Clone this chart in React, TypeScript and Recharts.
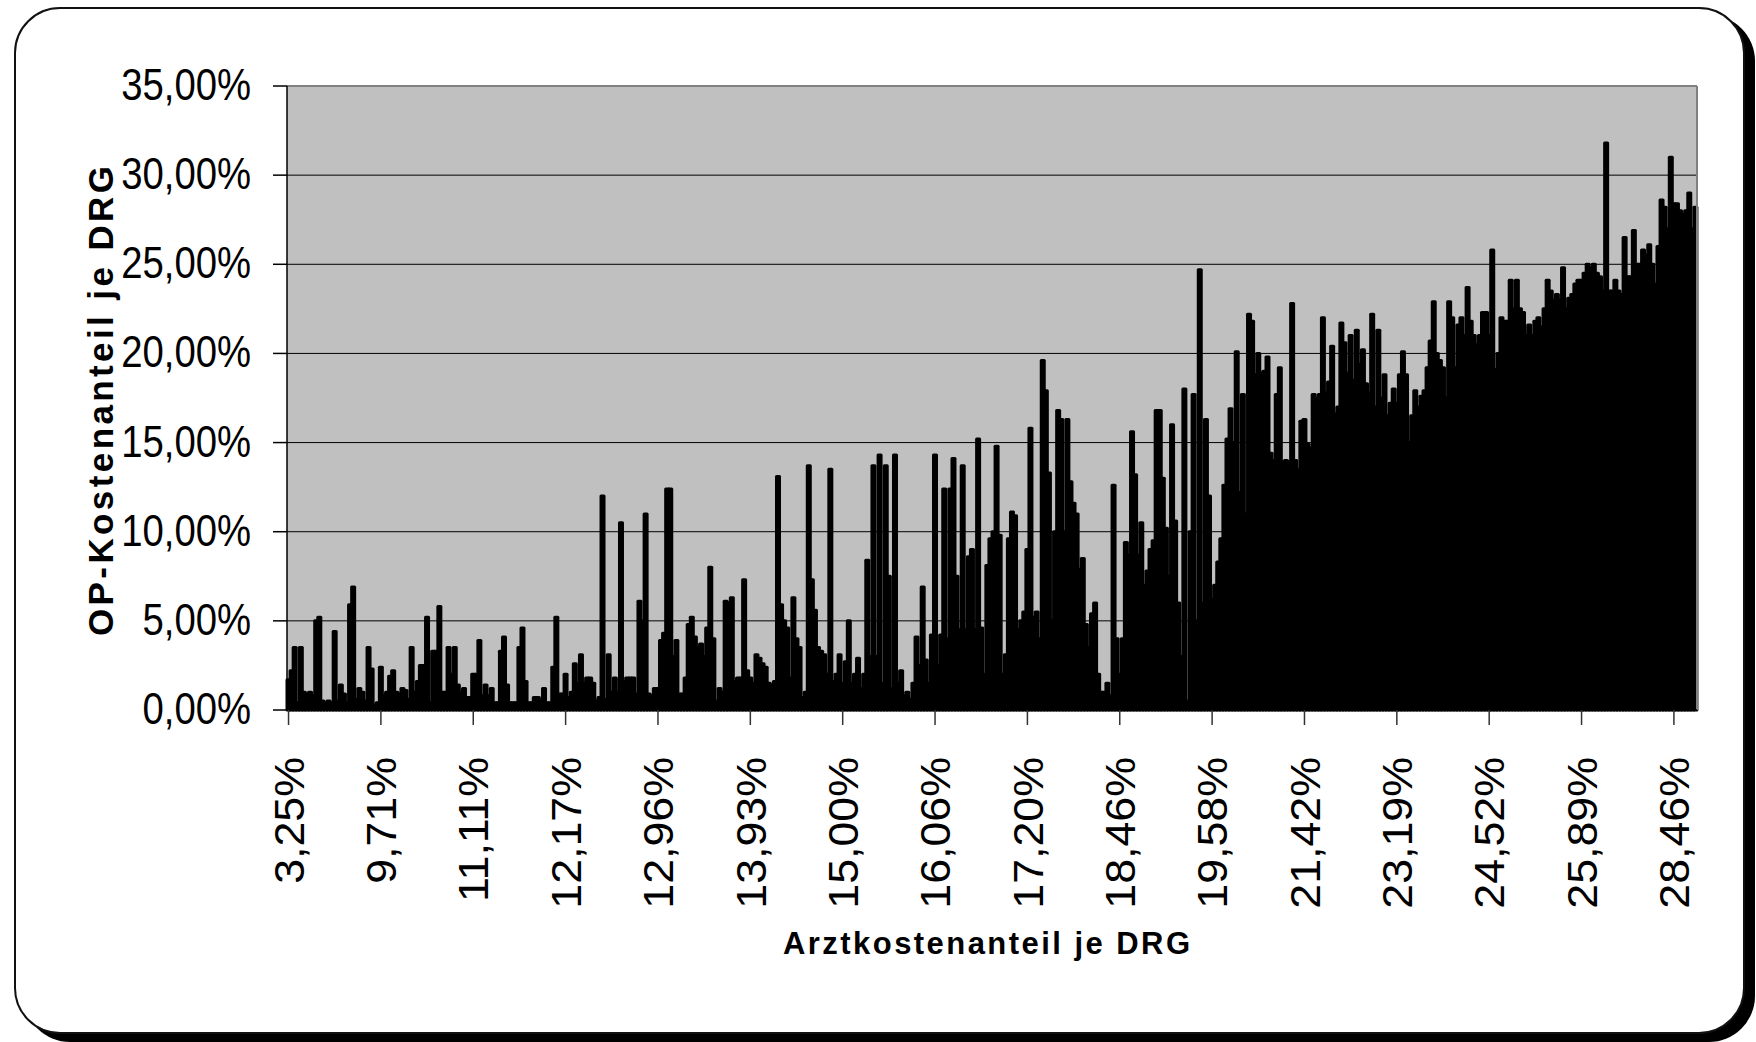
import React from 'react';
import { BarChart, Bar, XAxis, YAxis, CartesianGrid, ReferenceLine } from 'recharts';

const FONT = '"Liberation Sans", Arial, sans-serif';

const TICK_LABELS = [
  '3,25%', '9,71%', '11,11%', '12,17%', '12,96%', '13,93%', '15,00%', '16,06%',
  '17,20%', '18,46%', '19,58%', '21,42%', '23,19%', '24,52%', '25,89%', '28,46%'
];
const Y_TICKS = [0, 5, 10, 15, 20, 25, 30, 35];
const GRID_LINES = [5, 10, 15, 20, 25, 30];

// OP-Kostenanteil je DRG in %, one block of 30 DRGs per labelled axis step
const drg03_25 = [1.7, 2.2, 3.5, 0.4, 3.5, 1.0, 0.9, 1.0, 0.8, 5.0, 5.2, 0.5, 0.4, 0.5, 0.4, 4.4, 0.5, 1.4, 0.9, 0.4, 5.9, 6.9, 0.6, 1.2, 1.0, 0.5, 3.5, 2.3, 0.3, 0.4];
const drg09_71 = [2.4, 0.8, 1.0, 1.9, 2.2, 1.0, 0.9, 1.2, 1.1, 0.6, 3.5, 1.0, 1.6, 2.5, 2.5, 5.2, 0.4, 3.3, 3.3, 5.8, 1.0, 1.0, 3.5, 2.0, 3.5, 1.4, 1.0, 1.2, 0.7, 0.7];
const drg11_11 = [2.0, 2.0, 3.9, 0.8, 1.4, 0.8, 1.2, 0.4, 0.4, 3.3, 4.1, 1.4, 0.4, 0.4, 0.4, 3.5, 4.6, 1.6, 0.4, 0.4, 0.7, 0.7, 0.5, 1.2, 0.4, 0.4, 2.4, 5.2, 0.9, 0.9];
const drg12_17 = [2.0, 0.7, 1.0, 2.6, 1.5, 3.1, 1.5, 1.8, 1.8, 1.5, 0.5, 0.7, 12.0, 0.6, 3.1, 1.0, 1.8, 1.0, 10.5, 1.6, 1.8, 1.8, 1.8, 0.9, 6.1, 5.0, 11.0, 0.9, 0.8, 1.2];
const drg12_96 = [1.2, 3.9, 4.3, 12.4, 12.4, 3.0, 3.9, 0.9, 0.9, 1.8, 4.8, 5.2, 4.1, 3.5, 3.7, 3.0, 4.6, 8.0, 4.0, 0.5, 1.2, 1.0, 6.1, 6.0, 6.3, 1.6, 1.8, 1.8, 7.3, 2.2];
const drg13_93 = [1.8, 1.5, 3.1, 2.9, 2.6, 2.4, 1.5, 1.4, 1.6, 13.1, 5.9, 5.0, 4.6, 1.8, 6.3, 4.0, 3.5, 0.7, 1.0, 13.7, 7.3, 5.6, 3.5, 3.3, 3.1, 2.0, 13.5, 1.6, 2.0, 3.1];
const drg15_00 = [1.5, 2.7, 5.0, 1.5, 2.0, 2.9, 1.2, 2.0, 8.4, 3.0, 13.7, 3.0, 14.3, 1.5, 13.7, 7.5, 1.2, 14.3, 1.5, 2.2, 0.8, 1.0, 0.6, 1.5, 4.1, 2.5, 6.9, 2.8, 1.5, 4.2];
const drg16_06 = [14.3, 2.5, 4.2, 12.4, 4.0, 12.4, 14.1, 7.5, 4.5, 13.7, 4.5, 8.6, 9.0, 4.5, 15.2, 4.6, 2.0, 8.1, 9.6, 10.0, 14.8, 9.8, 2.0, 3.1, 9.6, 11.1, 10.9, 4.5, 5.0, 5.5];
const drg17_20 = [9.0, 15.8, 5.2, 5.5, 4.0, 19.6, 17.9, 13.3, 5.0, 10.0, 16.8, 16.3, 10.0, 16.3, 12.8, 11.6, 11.0, 7.9, 8.5, 4.8, 3.5, 5.4, 6.0, 2.0, 1.0, 1.0, 1.5, 0.8, 12.6, 4.0];
const drg18_46 = [2.0, 4.0, 9.4, 8.7, 15.6, 13.2, 8.7, 10.5, 7.0, 7.8, 9.0, 9.5, 16.8, 16.8, 13.0, 10.2, 7.5, 16.0, 10.6, 6.0, 3.0, 18.0, 0.5, 10.0, 17.7, 5.0, 24.7, 6.0, 16.3, 12.0];
const drg19_58 = [6.2, 7.0, 8.3, 9.6, 12.6, 15.2, 16.9, 15.0, 20.1, 12.2, 17.7, 11.0, 22.2, 21.8, 18.8, 20.0, 18.9, 19.0, 19.8, 14.4, 14.0, 17.7, 19.2, 13.9, 14.0, 13.9, 22.8, 14.0, 13.5, 16.2];
const drg21_42 = [16.3, 14.9, 14.7, 17.7, 17.5, 17.7, 22.0, 17.8, 18.4, 20.4, 16.6, 17.0, 21.7, 20.6, 18.9, 21.0, 18.5, 21.3, 19.4, 20.2, 18.3, 17.8, 22.2, 17.0, 21.3, 17.5, 18.8, 16.5, 17.2, 18.0];
const drg23_19 = [17.2, 18.8, 20.1, 18.8, 15.0, 16.5, 17.9, 17.0, 17.6, 17.9, 19.2, 20.7, 22.9, 20.0, 19.6, 19.2, 17.5, 22.9, 22.0, 19.2, 21.6, 22.0, 21.0, 23.7, 21.8, 21.0, 20.5, 21.0, 22.3, 22.3];
const drg24_52 = [21.0, 25.8, 19.1, 20.0, 22.0, 21.8, 21.8, 24.1, 22.5, 24.1, 22.5, 22.3, 21.0, 21.6, 21.0, 21.8, 22.0, 21.5, 22.5, 24.1, 23.5, 23.0, 23.3, 23.0, 24.8, 22.5, 23.1, 23.3, 23.9, 24.1];
const drg25_89 = [24.1, 24.5, 25.0, 24.8, 25.0, 24.5, 24.3, 23.5, 31.8, 23.5, 23.5, 24.1, 23.5, 23.3, 26.5, 24.3, 24.3, 26.9, 25.0, 25.0, 25.8, 25.5, 26.1, 25.0, 23.9, 26.0, 28.6, 28.2, 27.0, 31.0];
const drg28_46 = [28.4, 28.4, 28.0, 27.8, 28.0, 29.0, 27.0, 28.2];

const opShare = [
  ...drg03_25, ...drg09_71, ...drg11_11, ...drg12_17, ...drg12_96, ...drg13_93,
  ...drg15_00, ...drg16_06, ...drg17_20, ...drg18_46, ...drg19_58, ...drg21_42,
  ...drg23_19, ...drg24_52, ...drg25_89, ...drg28_46
];

const data = opShare.map((v, i) => ({ idx: i, op: v }));

const fmtPct = (v: number) => `${v.toFixed(2).replace('.', ',')}%`;

const XTick = ({ x, payload }: any) => (
  <g transform={`translate(${x},757) rotate(-90)`}>
    <text
      transform="scale(1.04,1)"
      textAnchor="end"
      dominantBaseline="central"
      fontSize={43}
      fontFamily={FONT}
      fill="#000"
    >
      {TICK_LABELS[Math.round(payload.value / 30)]}
    </text>
  </g>
);

const YTick = ({ y, payload }: any) => (
  <g transform={`translate(251,${y - 1})`}>
    <text
      transform="scale(0.87,1)"
      textAnchor="end"
      dominantBaseline="central"
      fontSize={44}
      fontFamily={FONT}
      fill="#000"
    >
      {fmtPct(payload.value)}
    </text>
  </g>
);

export default function App() {
  return (
    <div style={{ position: 'absolute', left: 0, top: 0, width: 1756, height: 1042, background: '#fff', overflow: 'hidden' }}>
      <div
        style={{
          position: 'absolute',
          left: 14,
          top: 7,
          width: 1731,
          height: 1027,
          boxSizing: 'border-box',
          border: '2px solid #111',
          borderRadius: 46,
          boxShadow: '10px 8px 0 0 #000',
          background: '#fff'
        }}
      />
      <div style={{ position: 'absolute', left: 0, top: 0 }}>
        <BarChart
          width={1756}
          height={1042}
          data={data}
          margin={{ top: 86, right: 59, bottom: 0, left: 0 }}
          barCategoryGap={0}
          barGap={0}
        >
          <CartesianGrid horizontal={false} vertical={false} fill="#C0C0C0" stroke="none" />
          {GRID_LINES.map((v) => (
            <ReferenceLine key={v} y={v} stroke="#000" strokeWidth={1} />
          ))}
          <ReferenceLine y={35} stroke="#808080" strokeWidth={2} />
          <ReferenceLine x={opShare.length - 1} position="end" stroke="#808080" strokeWidth={2} />
          <XAxis
            dataKey="idx"
            type="category"
            interval={29}
            height={332}
            tickSize={15}
            axisLine={{ stroke: '#000', strokeWidth: 1.5 }}
            tickLine={{ stroke: '#333', strokeWidth: 1.5 }}
            tick={<XTick />}
          />
          <YAxis
            type="number"
            domain={[0, 35]}
            ticks={Y_TICKS}
            width={287}
            tickSize={14}
            axisLine={{ stroke: '#000', strokeWidth: 1.5 }}
            tickLine={{ stroke: '#000', strokeWidth: 1.5 }}
            tick={<YTick />}
          />
          <Bar
            dataKey="op"
            fill="#000"
            stroke="#000"
            strokeWidth={3}
            strokeLinejoin="round"
            isAnimationActive={false}
          />
        </BarChart>
      </div>
      <svg width={1756} height={1042} style={{ position: 'absolute', left: 0, top: 0, pointerEvents: 'none' }}>
        <text
          transform="translate(113,401) rotate(-90)"
          textAnchor="middle"
          fontSize={35}
          fontWeight="bold"
          fontFamily={FONT}
          textLength={470}
          lengthAdjust="spacing"
          fill="#000"
        >
          OP-Kostenanteil je DRG
        </text>
        <text
          x={783}
          y={954}
          fontSize={31}
          fontWeight="bold"
          fontFamily={FONT}
          textLength={407}
          lengthAdjust="spacing"
          fill="#000"
        >
          Arztkostenanteil je DRG
        </text>
      </svg>
    </div>
  );
}
